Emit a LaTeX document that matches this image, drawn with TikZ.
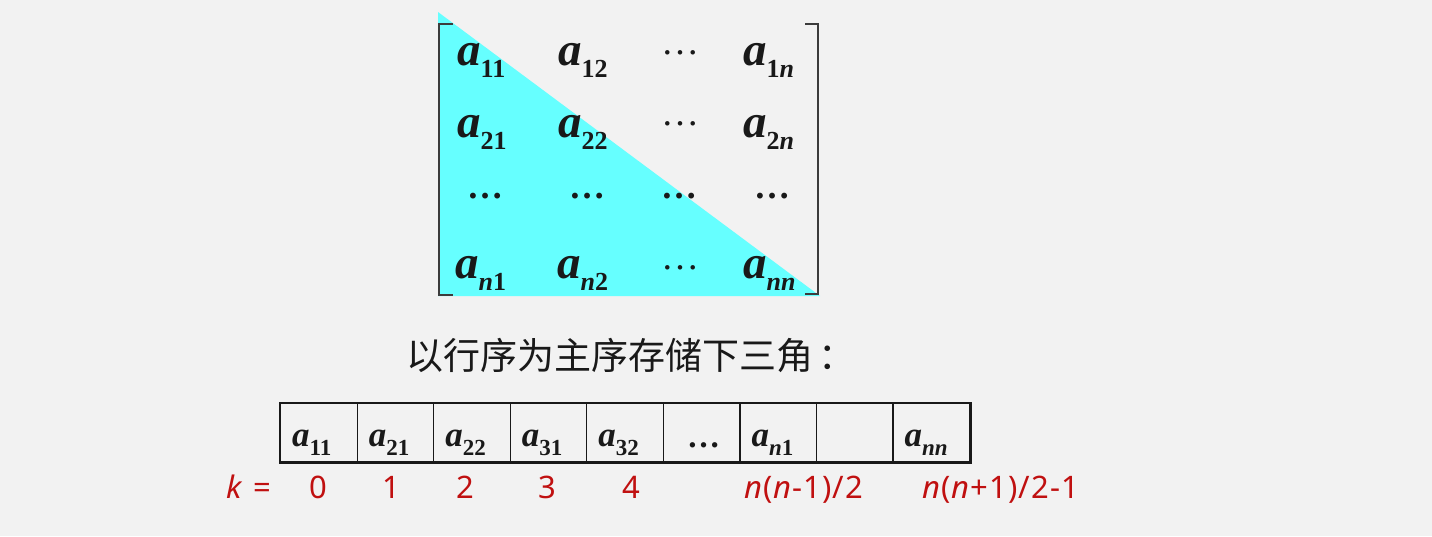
\documentclass[tikz,border=0pt]{standalone}
\usepackage{fontspec}
\usetikzlibrary{calc}
\setmainfont{Liberation Serif}
\newfontfamily\cjkfont{Noto Sans CJK SC}
\newfontfamily\labfont[LetterSpace=4]{Noto Sans}
\definecolor{bgcol}{RGB}{242,242,242}
\definecolor{tricol}{RGB}{102,255,255}
\definecolor{labred}{RGB}{192,16,16}
\definecolor{inkcol}{RGB}{25,25,25}
\newcommand\mA[1]{{\fontsize{47}{47}\selectfont\bfseries\itshape a}\raisebox{-12pt}{\fontsize{26}{26}\selectfont\bfseries #1}}
\newcommand\cA[1]{{\fontsize{35}{35}\selectfont\bfseries\itshape a}\raisebox{-9pt}{\fontsize{23}{23}\selectfont\bfseries #1}}
\tikzset{
  mel/.style={anchor=base west, inner sep=0pt, text=inkcol},
  mdots/.style={anchor=base, inner sep=0pt, text=inkcol, font=\fontsize{38}{38}\selectfont},
  bdots/.style={anchor=base, inner sep=0pt, text=inkcol, font=\fontsize{36}{36}\selectfont\bfseries},
  brk/.style={draw=inkcol!85, line width=2.2pt},
  cellbox/.style={draw=inkcol, line width=1.2pt, minimum width=76.55pt, minimum height=58pt, inner sep=0pt, anchor=north west},
  lab/.style={anchor=base, inner sep=0pt, text=labred, font=\labfont\fontsize{31}{31}\selectfont}
}
\begin{document}
\begin{tikzpicture}[x=1pt,y=-1pt]
\fill[bgcol] (0,0) rectangle (1432,536);
\useasboundingbox (0,0) rectangle (1432,536);
% triangle
\coordinate (t1) at (438,12);
\coordinate (t2) at (438,296);
\coordinate (t3) at (820,296);
\fill[tricol] (t1) -- (t2) -- (t3) -- cycle;
% brackets
\coordinate (lb1) at (453,24);
\coordinate (lb2) at (439,24);
\coordinate (lb3) at (439,295);
\coordinate (lb4) at (453,295);
\draw[brk] (lb1) -- (lb2) -- (lb3) -- (lb4);
\coordinate (rb1) at (805,24);
\coordinate (rb2) at (818,24);
\coordinate (rb3) at (818,294);
\coordinate (rb4) at (805,294);
\draw[brk] (rb1) -- (rb2) -- (rb3) -- (rb4);
% matrix entries
\node[mel] (m11) at (457,65) {\mA{11}};
\node[mel] (m12) at (558,65) {\mA{12}};
\node[mdots] (m13) at (680,54) {…};
\node[mel] (m14) at (743,65) {\mA{1\textit{n}}};
\node[mel] (m21) at (457,137) {\mA{21}};
\node[mel] (m22) at (558,137) {\mA{22}};
\node[mdots] (m23) at (680,125) {…};
\node[mel] (m24) at (743,137) {\mA{2\textit{n}}};
\node[bdots] (m31) at (485,198) {…};
\node[bdots] (m32) at (587,198) {…};
\node[bdots] (m33) at (679,198) {…};
\node[bdots] (m34) at (772,198) {…};
\node[mel] (m41) at (455,278) {\mA{\textit{n}1}};
\node[mel] (m42) at (557,278) {\mA{\textit{n}2}};
\node[mdots] (m43) at (680,269) {…};
\node[mel] (m44) at (743,278) {\mA{\textit{nn}}};
% caption
\node[inner sep=0pt, anchor=west, text=inkcol, font=\cjkfont\fontsize{37}{37}\selectfont] (cap) at (406,355) {以行序为主序存储下三角\hspace{5pt}：};
% array cells
\foreach \i in {0,...,8} {
  \node[cellbox] (c\i) at ({280+76.55*\i},403) {};
}
\draw[draw=inkcol, line width=2.8pt] (c0.north west) rectangle (c8.south east);
\node[mel] (e0) at ($(c0.north west)+(12,43)$) {\cA{11}};
\node[mel] (e1) at ($(c1.north west)+(12,43)$) {\cA{21}};
\node[mel] (e2) at ($(c2.north west)+(12,43)$) {\cA{22}};
\node[mel] (e3) at ($(c3.north west)+(12,43)$) {\cA{31}};
\node[mel] (e4) at ($(c4.north west)+(12,43)$) {\cA{32}};
\node[anchor=base, inner sep=0pt, text=inkcol, font=\fontsize{33}{33}\selectfont\bfseries] (e5) at ($(c5.north)+(2,44)$) {…};
\node[mel] (e6) at ($(c6.north west)+(12,43)$) {\cA{\textit{n}1}};
\node[mel] (e8) at ($(c8.north west)+(12,43)$) {\cA{\textit{nn}}};
% k labels
\node[lab] (k) at (248.5,498) {\textit{k} =};
\node[lab] (k0) at (318,498) {0};
\node[lab] (k1) at (391,498) {1};
\node[lab] (k2) at (465,498) {2};
\node[lab] (k3) at (547,498) {3};
\node[lab] (k4) at (631,498) {4};
\node[lab] (k5) at (804,498) {\textit{n}(\textit{n}-1)/2};
\node[lab] (k6) at (1001,498) {\textit{n}(\textit{n}+1)/2-1};
\end{tikzpicture}
\end{document}
